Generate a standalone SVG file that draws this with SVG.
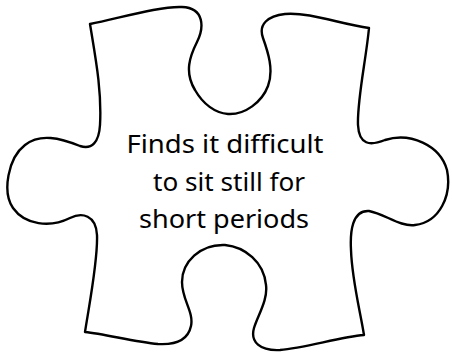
<svg xmlns="http://www.w3.org/2000/svg" width="452" height="354" viewBox="0 0 452 354">
<style>
.piece{fill:#ffffff;stroke:#000000;stroke-width:2.4;stroke-linejoin:round}
.lbl{font-family:"Noto Sans","Open Sans",sans-serif;font-size:26px;fill:#000000;text-anchor:middle}
</style>
<rect width="452" height="354" fill="#ffffff"/>
<g id="puzzle-piece">
<path class="piece" d="M90,24 C120,18 160,6 182,7 C205,8 204,28 197,42 C190,56 184,72 195,90 C203,104 215,113 228,114 C245,115 262,102 268,86 C274,70 268,52 263,38 C258,24 268,16 285,14 C310,12 340,24 369,28 C366,60 357,100 358,125 C359,145 370,146 385,140 C410,132 440,145 447,170 C452,195 440,222 415,225 C400,227 385,214 369,211 C352,210 350,232 351,250 C352,280 360,310 364,335 C340,337 305,348 280,350 C260,351 250,342 254,328 C258,315 268,300 266,285 C264,262 245,247 225,245 C200,244 182,262 182,282 C182,300 194,312 191,326 C188,340 175,345 158,344 C135,342 105,334 85,332 C90,300 98,260 97,235 C96,215 82,212 70,218 C50,228 25,225 13,208 C2,192 8,158 25,145 C40,133 60,138 80,146 C92,150 99,142 100,125 C102,90 95,55 90,24 Z"/>
<text class="lbl" x="225" y="153" textLength="197" lengthAdjust="spacingAndGlyphs">Finds it difficult</text>
<text class="lbl" x="229" y="191" textLength="152" lengthAdjust="spacingAndGlyphs">to sit still for</text>
<text class="lbl" x="224" y="228" textLength="170" lengthAdjust="spacingAndGlyphs">short periods</text>
</g>
</svg>
